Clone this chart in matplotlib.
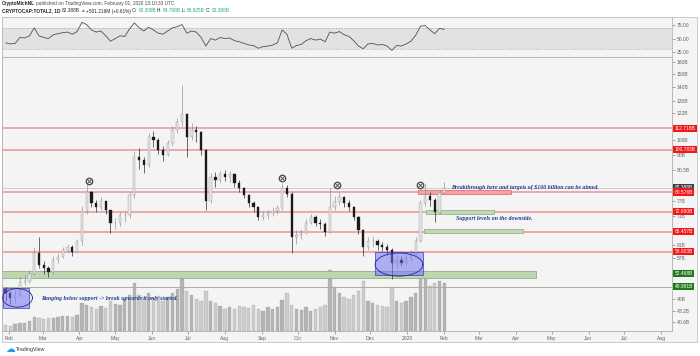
import numpy as np
import matplotlib
matplotlib.use('Agg')
import matplotlib.pyplot as plt
import matplotlib.dates as mdates
from matplotlib.patches import Rectangle
from matplotlib.ticker import NullLocator, NullFormatter

plt.rcParams['font.family'] = ['Liberation Sans', 'DejaVu Sans']

# 4-day sampled candles, CRYPTOCAP:TOTAL2 (billions USD)
start = np.datetime64('2019-01-29')
dates = start + np.arange(93) * 4
first_open = 48.5
closes = [47.5, 46.2, 46.8, 50.3, 50.5, 52.5, 58.5, 55.0, 54.0, 53.0,
          56.4, 57.4, 59.5, 60.4, 58.8, 62.2, 73.0, 80.6, 76.0, 74.5,
          76.8, 73.4, 68.5, 68.5, 71.5, 71.5, 79.2, 97.0, 95.5, 93.0,
          108.0, 106.0, 100.7, 98.0, 104.5, 112.0, 116.5, 121.5, 108.0, 112.0,
          110.5, 100.7, 77.0, 87.5, 86.0, 88.5, 87.5, 88.5, 84.5, 82.5,
          79.2, 76.0, 74.6, 70.7, 71.5, 72.2, 73.0, 74.0, 82.5, 80.0,
          63.7, 64.3, 65.0, 68.5, 70.7, 68.5, 68.0, 65.5, 74.6, 76.7,
          78.5, 76.0, 74.6, 70.7, 66.0, 60.4, 62.3, 62.3, 61.0, 60.4,
          59.5, 55.6, 56.4, 55.6, 57.0, 58.0, 62.3, 76.0, 79.0, 77.4,
          72.7, 80.3, 82.4]
highs = [49.0, 48.0, 48.2, 51.5, 52.0, 53.5, 60.5, 63.5, 56.0, 54.5,
         57.5, 58.5, 60.5, 61.5, 61.0, 63.0, 75.0, 84.5, 81.0, 77.5,
         78.5, 77.0, 73.5, 70.5, 72.5, 73.0, 80.5, 100.0, 101.5, 97.0,
         110.0, 111.5, 107.0, 103.0, 106.0, 114.0, 119.0, 142.0, 122.0, 116.0,
         114.0, 111.0, 101.0, 89.0, 89.5, 90.0, 90.5, 90.0, 89.0, 86.0,
         83.0, 80.0, 77.0, 75.0, 73.0, 73.5, 74.5, 75.5, 84.6, 83.5,
         80.5, 66.0, 66.5, 70.0, 72.0, 71.5, 70.0, 69.0, 82.3, 79.0,
         80.5, 79.0, 77.5, 75.0, 71.0, 66.5, 63.5, 64.0, 63.0, 62.0,
         61.5, 60.0, 58.0, 57.5, 58.0, 59.5, 63.5, 77.5, 84.5, 80.5,
         78.0, 81.5, 85.0]
lows = [45.5, 44.8, 45.0, 46.5, 49.5, 50.0, 52.0, 54.0, 52.5, 51.5,
        52.5, 55.5, 57.0, 58.5, 57.5, 58.5, 61.0, 72.0, 74.5, 72.5,
        73.5, 72.0, 65.0, 66.5, 67.5, 69.0, 70.5, 78.0, 91.0, 89.0,
        92.0, 102.0, 98.5, 95.0, 97.5, 103.0, 110.0, 114.0, 97.0, 106.0,
        105.0, 98.0, 73.4, 76.0, 83.0, 84.5, 85.5, 85.0, 83.0, 80.5,
        78.0, 74.5, 72.5, 69.5, 69.5, 70.0, 71.0, 72.0, 73.5, 78.5,
        58.5, 61.5, 63.0, 64.5, 68.0, 67.5, 66.5, 64.0, 65.0, 73.5,
        75.5, 74.5, 73.0, 69.5, 64.5, 57.5, 59.5, 60.5, 59.5, 59.0,
        58.0, 51.0, 54.0, 54.5, 55.0, 56.0, 57.5, 62.0, 75.0, 75.0,
        69.0, 72.0, 80.0]
volumes = [6, 5, 7, 8, 8, 10, 14, 13, 12, 13,
           13, 14, 15, 15, 14, 16, 28, 26, 24, 22,
           25, 23, 30, 27, 26, 32, 36, 48, 36, 34,
           38, 33, 35, 30, 34, 38, 42, 59, 40, 36,
           32, 30, 40, 30, 28, 25, 22, 24, 22, 25,
           24, 23, 26, 22, 20, 24, 22, 24, 31, 38,
           26, 22, 21, 24, 20, 22, 24, 26, 61, 44,
           38, 34, 32, 36, 40, 50, 30, 28, 26, 25,
           24, 44, 30, 28, 30, 34, 38, 56, 60, 45,
           48, 50, 48]
rsi = [42, 40, 41, 52, 51, 55, 70, 55, 52, 50,
       57, 59, 61, 62, 58, 63, 80, 76, 66, 62,
       64, 55, 45, 50, 55, 54, 68, 79, 70, 64,
       71, 66, 60, 58, 64, 70, 72, 76, 60, 64,
       62, 52, 36, 50, 47, 52, 50, 51, 46, 44,
       41, 38, 37, 32, 35, 36, 38, 42, 66, 58,
       32, 37, 39, 46, 50, 47, 49, 44, 62, 60,
       63, 57, 54, 46, 36, 31, 40, 41, 38, 39,
       36, 28, 37, 36, 40, 45, 56, 73, 74, 66,
       59, 69, 67]

# horizontal levels
red_levels = [112.718, 100.783, 80.578, 72.69, 65.457, 58.903]
price_line = 82.388
green_line = 48.981

# right axis ticks and tags
price_ticks = [160, 150, 140, 130, 122, 106, 98, 90.5, 77, 71, 61, 57, 46, 43.2, 40.6]
price_tick_labels = ['160B', '150B', '140B', '130B', '122B', '106B', '98B', '90.5B',
                     '77B', '71B', '61B', '57B', '46B', '43.2B', '40.6B']
tag_vals = [112.718, 100.783, 82.388, 80.578, 72.69, 65.457, 58.903, 52.468, 48.981]
tag_labels = ['112.718B', '100.783B', '82.388B', '80.578B', '72.690B', '65.457B',
              '58.903B', '52.468B', '48.981B']
tag_colors = ['#f21818', '#f21818', '#3b3f4a', '#f21818', '#f21818', '#f21818',
              '#f21818', '#1f7a1f', '#1f7a1f']

month_ticks = ['2019-02-01', '2019-03-01', '2019-04-01', '2019-05-01', '2019-06-01',
               '2019-07-01', '2019-08-01', '2019-09-01', '2019-10-01', '2019-11-01',
               '2019-12-01', '2020-01-01', '2020-02-01', '2020-03-01', '2020-04-01',
               '2020-05-01', '2020-06-01', '2020-07-01', '2020-08-01']
month_labels = ['Feb', 'Mar', 'Apr', 'May', 'Jun', 'Jul', 'Aug', 'Sep', 'Oct', 'Nov',
                'Dec', '2020', 'Feb', 'Mar', 'Apr', 'May', 'Jun', 'Jul', 'Aug']

# drawings (date span, value span)
green_band = ('2019-01-25', '2020-04-18', 51.3, 53.3)
red_zone = ('2020-01-10', '2020-03-28', 80.0, 81.4)
green_zones = [('2020-01-17', '2020-03-14', 71.8, 73.2),
               ('2020-01-15', '2020-04-07', 65.0, 66.5)]
blue_boxes = [('2019-01-27', '2019-02-18', 43.8, 48.6),
              ('2019-12-05', '2020-01-14', 52.1, 58.7)]
ellipses = [('2019-02-08', 12.5, 44.0, 48.5), ('2019-12-25', 20.0, 51.8, 58.5)]
marker_dates = ['2019-04-09', '2019-09-18', '2019-11-03', '2020-01-12']
marker_vals = [85.3, 86.9, 83.6, 83.6]
notes = [('2020-02-07', 82.6, 'Breakthrough here and targets of $100 billion can be aimed.'),
         ('2020-02-11', 70.2, 'Support levels on the downside.'),
         ('2019-02-28', 46.0, 'Ranging below support -> break upwards it only started.')]

def dn(s):
    return mdates.date2num(np.datetime64(s))

x = mdates.date2num(dates)
c = np.array(closes)
o = np.array([first_open] + closes[:-1])
up = c >= o

fig = plt.figure(figsize=(7, 3.56), dpi=100)
fig.patch.set_facecolor('white')
fig.add_artist(Rectangle((2 / 700, 1 - 342 / 356), 695 / 700, 325 / 356,
                         transform=fig.transFigure, facecolor='#f4f4f4',
                         edgecolor='#c4c4c4', lw=0.6, zorder=0))

BG = '#f4f4f4'
xmin, xmax = dn('2019-01-26'), dn('2020-08-10')

# RSI panel
ax_rsi = fig.add_axes([2 / 700, 1 - 57 / 356, 670 / 700, 40 / 356])
ax_rsi.set_facecolor(BG)
ax_rsi.axhspan(30, 70, color='#e2e2e2', lw=0, zorder=0)
ax_rsi.axhline(70, color='#aaaaaa', lw=0.5, ls=(0, (2, 2)))
ax_rsi.axhline(30, color='#aaaaaa', lw=0.5, ls=(0, (2, 2)))
ax_rsi.plot(x, rsi, color='#505050', lw=0.6)
ax_rsi.set_ylim(15.7, 90)
ax_rsi.set_xlim(xmin, xmax)
ax_rsi.set_xticks([])
ax_rsi.yaxis.tick_right()
ax_rsi.set_yticks([75, 50, 25])
ax_rsi.set_yticklabels(['75.00', '50.00', '25.00'])
ax_rsi.tick_params(axis='y', labelsize=3.6, colors='#666666', length=2, width=0.4, pad=1.5)
for s in ax_rsi.spines.values():
    s.set_color('#b8b8b8')
    s.set_linewidth(0.6)

# main panel
ax = fig.add_axes([2 / 700, 1 - 331 / 356, 670 / 700, 274 / 356])
ax_vol = ax.twinx()
ax.set_zorder(ax_vol.get_zorder() + 1)
ax.patch.set_visible(False)
ax_vol.set_facecolor(BG)

vol_col = np.where(up, '#b4b4b4', '#cdcdcd')
ax_vol.bar(x, volumes, width=2.8, color=vol_col, edgecolor='#a0a0a0', lw=0.2)
ax_vol.set_ylim(0, 273)
ax_vol.set_yticks([])

ax.set_yscale('log')
ax.set_xlim(xmin, xmax)
ax.set_ylim(38.8, 164.2)

for v in red_levels:
    ax.axhline(v, color='#ec9496', lw=1.1, zorder=1)
ax.axhline(price_line, color='#c0c0c0', lw=0.5, zorder=1)
ax.axhline(green_line, color='#9fb59a', lw=0.7, zorder=1)

d0, d1, v0, v1 = green_band
ax.add_patch(Rectangle((dn(d0), v0), dn(d1) - dn(d0), v1 - v0, facecolor='#bcd6b0',
                       edgecolor='#8fb080', lw=0.6, zorder=1.5))

# candles
wick_col = np.where(up, '#8c8c8c', '#1a1a1a')
ax.vlines(x, lows, highs, colors=wick_col, lw=0.45, zorder=3)
ax.bar(x, np.abs(c - o), bottom=np.minimum(o, c), width=1.9,
       color=np.where(up, '#e4e4e4', '#1a1a1a'),
       edgecolor=np.where(up, '#8c8c8c', '#1a1a1a'), lw=0.25, zorder=4)

d0, d1, v0, v1 = red_zone
ax.add_patch(Rectangle((dn(d0), v0), dn(d1) - dn(d0), v1 - v0, facecolor='#f2a4a4',
                       edgecolor='#e06060', lw=0.5, zorder=2))
for d0, d1, v0, v1 in green_zones:
    ax.add_patch(Rectangle((dn(d0), v0), dn(d1) - dn(d0), v1 - v0, facecolor='#c2d8b6',
                           edgecolor='#8aa57c', lw=0.5, zorder=2))
for d0, d1, v0, v1 in blue_boxes:
    ax.add_patch(Rectangle((dn(d0), v0), dn(d1) - dn(d0), v1 - v0,
                           facecolor=(0.45, 0.45, 0.96, 0.55), edgecolor='#3c3cc8',
                           lw=0.5, zorder=5))
t = np.linspace(0, 2 * np.pi, 120)
for dc, half_w, vlo, vhi in ellipses:
    lc, lh = (np.log(vlo) + np.log(vhi)) / 2, (np.log(vhi) - np.log(vlo)) / 2
    ax.plot(dn(dc) + half_w * np.cos(t), np.exp(lc + lh * np.sin(t)),
            color='#2a2a80', lw=0.6, zorder=6)

mx = [dn(d) for d in marker_dates]
ax.plot(mx, marker_vals, ls='none', marker='o', ms=4.6, mfc='white', mec='#505050',
        mew=1.0, zorder=7)
ax.plot(mx, marker_vals, ls='none', marker='x', ms=2.2, mec='#505050', mew=0.7, zorder=8)

for d, v, s in notes:
    ax.text(dn(d), v, s, fontsize=4.2, style='italic', weight='bold',
            family=['Liberation Serif', 'DejaVu Serif'], color='#1f3c96',
            va='center', ha='left', zorder=9)

ax.yaxis.tick_right()
ax.set_yticks(price_ticks)
ax.set_yticklabels(price_tick_labels)
ax.yaxis.set_minor_locator(NullLocator())
ax.yaxis.set_minor_formatter(NullFormatter())
ax.tick_params(axis='y', labelsize=3.6, colors='#666666', length=2, width=0.4, pad=1.5)
ax.set_xticks([dn(m) for m in month_ticks])
ax.set_xticklabels(month_labels)
ax.tick_params(axis='x', labelsize=3.6, colors='#666666', length=2, width=0.4, pad=1.5)
for a in (ax, ax_vol):
    for s in a.spines.values():
        s.set_color('#b8b8b8')
        s.set_linewidth(0.6)

tr = ax.get_yaxis_transform()
for v, lab, col in zip(tag_vals, tag_labels, tag_colors):
    ax.text(1.004, v, lab, transform=tr, fontsize=3.5, color='white', va='center',
            ha='left', clip_on=False, zorder=10,
            bbox=dict(boxstyle='square,pad=0.25', fc=col, ec='none'))

# header
fig.canvas.draw()
renderer = fig.canvas.get_renderer()

def put_line(pieces, ypix, size):
    xp = 2.0
    for s, col, w in pieces:
        tx = fig.text(xp / 700, 1 - ypix / 356, s, fontsize=size, color=col,
                      weight=w, va='center', ha='left')
        xp += tx.get_window_extent(renderer).width + 1.0

put_line([('CryptoMichNL', '#222222', 'bold'),
          ('published on TradingView.com, February 01, 2020 13:10:33 UTC', '#444444', 'normal')],
         4, 3.4)
put_line([('CRYPTOCAP:TOTAL2, 1D', '#222222', 'bold'), ('82.388B', '#222222', 'normal'),
          ('\u25b2', '#26a69a', 'normal'), ('+501.216M (+0.61%)', '#222222', 'normal'),
          ('O:', '#222222', 'normal'), ('82.309B', '#26a69a', 'normal'),
          ('H:', '#222222', 'normal'), ('84.788B', '#26a69a', 'normal'),
          ('L:', '#222222', 'normal'), ('80.925B', '#26a69a', 'normal'),
          ('C:', '#222222', 'normal'), ('82.388B', '#26a69a', 'normal')],
         11, 3.4)

fig.text(5 / 700, 1 - 349 / 356, '\u2601', fontsize=7, color='#2196f3', va='center',
         family=['DejaVu Sans'])
fig.text(16 / 700, 1 - 349 / 356, 'TradingView', fontsize=3.8, color='#333333', va='center')

fig.savefig('out.png', dpi=100, facecolor='white')
